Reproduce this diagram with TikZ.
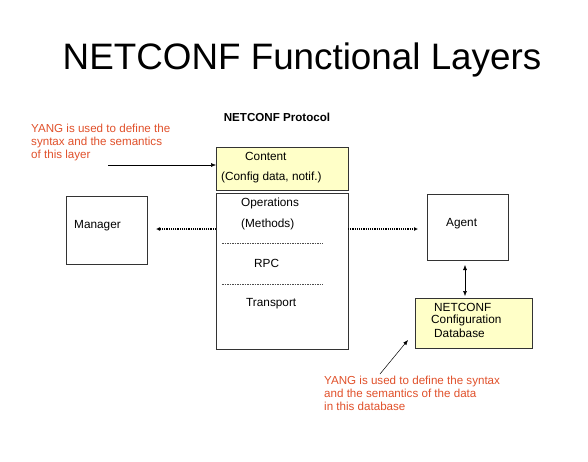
\documentclass[tikz,border=0pt]{standalone}
\usepackage{fontspec}
\setmainfont{Liberation Sans}
\usetikzlibrary{arrows.meta}
\definecolor{note}{HTML}{E0502A}
\definecolor{pale}{HTML}{FFFFC8}
\begin{document}
\begin{tikzpicture}[x=1pt,y=-1pt,
  box/.style={draw=black!80,line width=1pt},
  ybox/.style={box,fill=pale},
  lbl/.style={font=\fontsize{11.8}{13}\selectfont,inner sep=0pt,anchor=west},
  red/.style={lbl,text=note,align=left,anchor=north west,font=\fontsize{11.6}{13}\selectfont},
  dotarrow/.style={densely dotted,line width=1.2pt,-{Latex[length=4pt,width=4pt]}},
  thin/.style={line width=0.5pt,-{Latex[length=5pt,width=4pt]}},
  sep/.style={line width=0.4pt,black!70,dash pattern=on 1.5pt off 1pt}]
\useasboundingbox (0,0) rectangle (588,461);
\node (title) at (302,60) {\fontsize{36.8}{42}\selectfont NETCONF Functional Layers};
\node (proto) at (277,117) {\fontsize{11.6}{13}\selectfont\bfseries NETCONF Protocol};
\node[red] (note1) at (31,124) {YANG is used to define the\\syntax and the semantics\\of this layer};
\coordinate (n1s) at (108,165);
\draw[ybox] (216,147) rectangle (348,190);
\coordinate (content) at (216,165);
\node[lbl] (c1) at (245,156) {Content};
\node[lbl] (c2) at (221,177) {(Config data, notif.)};
\draw[thin] (n1s) -- (content);
\draw[box] (216,193) rectangle (348,349);
\coordinate (opL) at (216,229);
\coordinate (opR) at (348,229);
\node[lbl] (o1) at (241,203) {Operations};
\node[lbl] (o2) at (241,224) {(Methods)};
\draw[sep] (222,243) -- (323,243);
\node[lbl] (o3) at (254,263) {RPC};
\draw[sep] (222,284) -- (323,284);
\node[lbl] (o4) at (246,304) {Transport};
\draw[box] (66,196) rectangle (147,264);
\node[lbl] (mgr) at (74,226) {Manager};
\coordinate (mgrR) at (156,229);
\draw[box] (427,194) rectangle (508,260);
\node[lbl] (agt) at (446,224) {Agent};
\coordinate (agtL) at (418,229);
\draw[dotarrow] (opL) -- (mgrR);
\draw[dotarrow] (opR) -- (agtL);
\coordinate (agtB) at (465,265);
\coordinate (dbT) at (465,296);
\draw[thin,{Latex[length=5pt,width=4pt]}-{Latex[length=5pt,width=4pt]}] (agtB) -- (dbT);
\draw[ybox] (415,298) rectangle (532,348);
\node[lbl] (d1) at (434,307) {NETCONF};
\node[lbl] (d2) at (431,320) {Configuration};
\node[lbl] (d3) at (434,333) {Database};
\coordinate (n2s) at (380,374);
\coordinate (dbp) at (408,340);
\draw[thin] (n2s) -- (dbp);
\node[red] (note2) at (324,376) {YANG is used to define the syntax\\and the semantics of the data\\in this database};
\end{tikzpicture}
\end{document}
